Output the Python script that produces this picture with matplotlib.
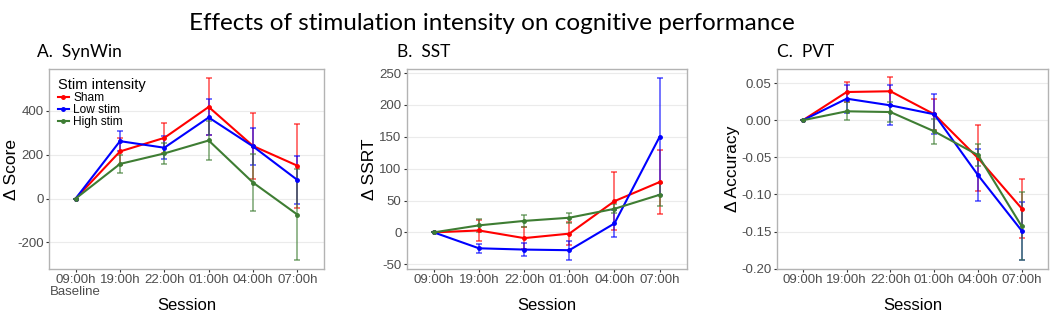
import numpy as np
import matplotlib
matplotlib.use("Agg")
import matplotlib.pyplot as plt
from matplotlib.lines import Line2D

# ==============================
# Data
# ==============================

sessions = ["09:00h", "19:00h", "22:00h", "01:00h", "04:00h", "07:00h"]
groups = ["Sham", "Low stim", "High stim"]
colors = {"Sham": "#FF0000", "Low stim": "#0000FF", "High stim": "#3E7D33"}

# A. SynWin (delta score)
synwin_mean = {
    "Sham": [0, 215, 277, 418, 240, 150],
    "Low stim": [0, 262, 232, 370, 238, 85],
    "High stim": [0, 158, 206, 265, 73, -73],
}
synwin_err = {
    "Sham": [0, 60, 70, 130, 151, 192],
    "Low stim": [0, 45, 53, 82, 85, 108],
    "High stim": [0, 40, 48, 89, 131, 207],
}

# B. SST (delta SSRT)
sst_mean = {
    "Sham": [0, 3, -9, -2, 49, 79],
    "Low stim": [0, -25, -27, -28, 14, 150],
    "High stim": [0, 11, 18, 23, 37, 59],
}
sst_err = {
    "Sham": [0, 16, 17, 18, 46, 50],
    "Low stim": [0, 7, 10, 15, 21, 92],
    "High stim": [0, 10, 10, 8, 7, 18],
}

# C. PVT (delta accuracy)
pvt_mean = {
    "Sham": [0, 0.038, 0.039, 0.008, -0.051, -0.119],
    "Low stim": [0, 0.029, 0.020, 0.008, -0.074, -0.149],
    "High stim": [0, 0.012, 0.011, -0.015, -0.047, -0.143],
}
pvt_err = {
    "Sham": [0, 0.014, 0.019, 0.021, 0.045, 0.040],
    "Low stim": [0, 0.019, 0.027, 0.027, 0.035, 0.039],
    "High stim": [0, 0.012, 0.013, 0.017, 0.015, 0.046],
}

W, H = 1052, 314


def rect(x0, y0, x1, y1):
    """pixel box (top-left origin) -> figure fraction rect"""
    return [x0 / W, 1 - y1 / H, (x1 - x0) / W, (y1 - y0) / H]


def draw_panel(ax, means, errs, ylim, yticks, yticklabels, xticklabels):
    x = np.arange(len(sessions))
    for g in groups:
        m = np.array(means[g], dtype=float)
        e = np.array(errs[g], dtype=float)
        c = colors[g]
        ax.errorbar(x, m, yerr=e, fmt="none", ecolor=c, elinewidth=1.4,
                    capsize=2.5, capthick=1.4, alpha=0.55, zorder=2)
        ax.plot(x, m, color=c, lw=1.5, marker="o", ms=2.5, zorder=3)
    ax.set_xlim(-0.6, 5.6)
    ax.set_ylim(*ylim)
    ax.set_xticks(x)
    ax.set_xticklabels(xticklabels)
    ax.set_yticks(yticks)
    ax.set_yticklabels(yticklabels)
    ax.grid(axis="y", color="#EBEBEB", lw=0.8)
    ax.set_axisbelow(True)
    for s in ax.spines.values():
        s.set_color("#B3B3B3")
        s.set_linewidth(1.0)
    ax.tick_params(colors="#333333", labelcolor="#4D4D4D", labelsize=9.5,
                   length=2.5, width=0.8, pad=1.2)


plt.rcParams["font.family"] = ["Liberation Sans", "DejaVu Sans"]
fig = plt.figure(figsize=(W / 100, H / 100), dpi=100)

axA = fig.add_axes(rect(49, 69, 324, 269))
axB = fig.add_axes(rect(406.7, 69, 686.7, 269))
axC = fig.add_axes(rect(776.7, 69, 1048, 269))

labelsA = ["09:00h\nBaseline"] + sessions[1:]
draw_panel(axA, synwin_mean, synwin_err, (-321, 591),
           [-200, 0, 200, 400], ["-200", "0", "200", "400"], labelsA)
for t in axA.get_xticklabels():
    t.set_linespacing(1.0)
draw_panel(axB, sst_mean, sst_err, (-57.5, 256.5),
           [-50, 0, 50, 100, 150, 200, 250],
           ["-50", "0", "50", "100", "150", "200", "250"], sessions)
draw_panel(axC, pvt_mean, pvt_err, (-0.2005, 0.069),
           [-0.20, -0.15, -0.10, -0.05, 0.00, 0.05],
           ["-0.20", "-0.15", "-0.10", "-0.05", "0.00", "0.05"], sessions)

# legend inside panel A
handles = [Line2D([], [], color=colors[g], lw=1.5, marker="o", ms=2.5) for g in groups]
leg = axA.legend(handles, groups, title="Stim intensity", loc="upper left",
                 bbox_to_anchor=(0.0, 1.0), frameon=False, fontsize=8.6,
                 title_fontsize=10.5, handlelength=0.9, handletextpad=0.4,
                 labelspacing=0.0, borderaxespad=0.35)
leg._legend_box.align = "left"

# axis titles
for xc, lab in [(12, "\u0394 Score"), (370, "\u0394 SSRT"), (733, "\u0394 Accuracy")]:
    fig.text(xc / W, 1 - 169 / H, lab, rotation=90, ha="center", va="center",
             fontsize=12.5)
for xc in [(49 + 324) / 2, (406.7 + 686.7) / 2, (776.7 + 1048) / 2]:
    fig.text(xc / W, 1 - 305 / H, "Session", ha="center", va="center", fontsize=12)

# titles
fig.text(492 / W, 1 - 24 / H, "Effects of stimulation intensity on cognitive performance",
         ha="center", va="center", fontsize=17.5, family=["Lato", "DejaVu Sans"])
for xl, t in [(37, "A.  SynWin"), (397, "B.  SST"), (777, "C.  PVT")]:
    fig.text(xl / W, 1 - 52 / H, t, ha="left", va="center", fontsize=12.5,
             family=["Lato", "DejaVu Sans"])

fig.savefig("out.png", dpi=100, facecolor="white")
